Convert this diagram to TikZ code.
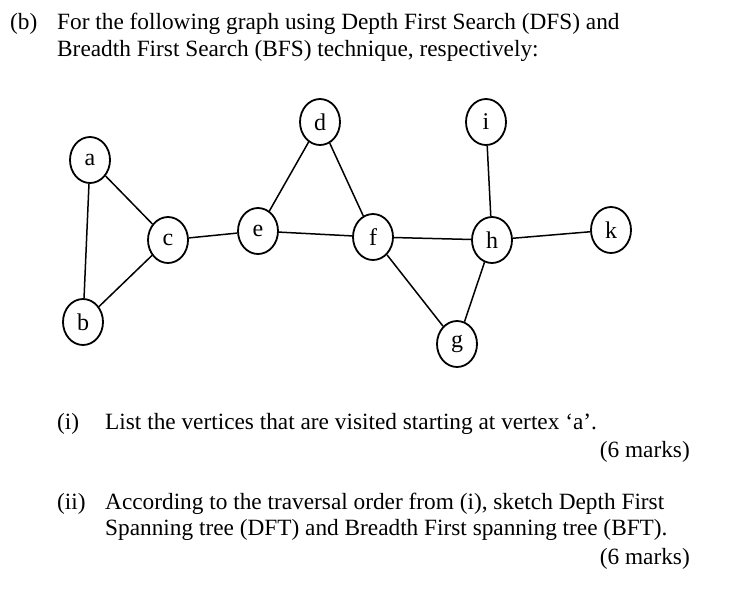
\documentclass[tikz,border=0pt]{standalone}
\usepackage{fontspec}
\setmainfont{Liberation Serif}
\usetikzlibrary{shapes.geometric}
\begin{document}
\begin{tikzpicture}[x=1pt,y=-1pt,
  vtx/.style={draw,line width=1.8pt,ellipse,minimum width=40pt,minimum height=46pt,inner sep=0pt,font=\fontsize{24}{26}\selectfont},
  edge/.style={line width=1.5pt},
  txt/.style={anchor=base west,inner sep=0pt,font=\fontsize{23.3}{26}\selectfont}]
\useasboundingbox (0,0) rectangle (729,598);
\node[txt] (t1) at (10,29) {(b)};
\node[txt] (t2) at (57,29) {For the following graph using Depth First Search (DFS) and};
\node[txt] (t3) at (57,56) {Breadth First Search (BFS) technique, respectively:};
\node[vtx] (a) at (90,160) {a};
\node[vtx] (b) at (83,322) {b};
\node[vtx] (c) at (168,240) {c};
\node[vtx] (e) at (258,231) {e};
\node[vtx] (d) at (320,122) {d};
\node[vtx] (f) at (373,237) {f};
\node[vtx] (i) at (486,122) {i};
\node[vtx] (h) at (492,240) {h};
\node[vtx] (k) at (611,230) {k};
\node[vtx] (g) at (457,344) {g};
\draw[edge] (a)--(b) (a)--(c) (b)--(c) (c)--(e) (e)--(d) (e)--(f) (d)--(f)
  (f)--(h) (f)--(g) (h)--(g) (h)--(i) (h)--(k);
\node[txt] (q1) at (57,429) {(i)};
\node[txt] (q1t) at (105,429) {List the vertices that are visited starting at vertex ‘a’.};
\node[txt,anchor=base east] (m1) at (690,457) {(6 marks)};
\node[txt] (q2) at (57,509) {(ii)};
\node[txt] (q2t) at (105,509) {According to the traversal order from (i), sketch Depth First};
\node[txt] (q2u) at (105,535) {Spanning tree (DFT) and Breadth First spanning tree (BFT).};
\node[txt,anchor=base east] (m2) at (690,564) {(6 marks)};
\end{tikzpicture}
\end{document}
